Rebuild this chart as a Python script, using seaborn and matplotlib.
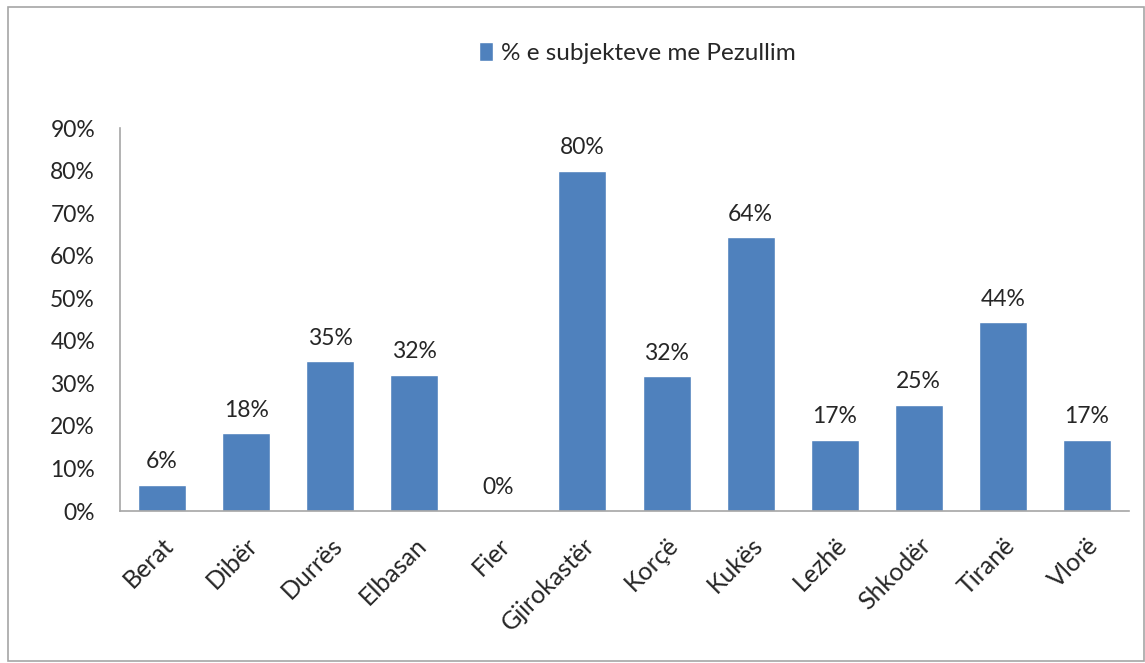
import pandas as pd
import seaborn as sns
import matplotlib.pyplot as plt
from matplotlib.patches import Rectangle
from matplotlib.ticker import FuncFormatter

sns.set_style("white")
plt.rcParams["font.family"] = ["Lato", "DejaVu Sans"]

# data
districts = ["Berat", "Dibër", "Durrës", "Elbasan", "Fier", "Gjirokastër",
             "Korçë", "Kukës", "Lezhë", "Shkodër", "Tiranë", "Vlorë"]
pct = [6.2, 18.3, 35.2, 32.0, 0.0, 80.0, 31.7, 64.3, 16.7, 25.0, 44.4, 16.7]
series_name = "% e subjekteve me Pezullim"

bar_color = "#4F81BD"
fs = 16.5

df = pd.DataFrame({"District": districts, "Pct": pct})

fig = plt.figure(figsize=(11.45, 6.63), dpi=100)
ax = fig.add_axes([120 / 1145, 1 - 511 / 663, 1009 / 1145, 383 / 663])

sns.barplot(data=df, x="District", y="Pct", color=bar_color, width=0.57,
            saturation=1, ax=ax, label=series_name)

ax.set_ylim(0, 90)
ax.set_xlim(-0.5, len(districts) - 0.5)
ax.set_yticks(range(0, 91, 10))
ax.yaxis.set_major_formatter(FuncFormatter(lambda v, p: f"{v:.0f}%"))
ax.set_xlabel("")
ax.set_ylabel("")

for s in ["top", "right"]:
    ax.spines[s].set_visible(False)
for s in ["left", "bottom"]:
    ax.spines[s].set_color("#A6A6A6")
    ax.spines[s].set_linewidth(1.2)

ax.tick_params(axis="y", length=0, pad=18, labelsize=fs)
ax.tick_params(axis="x", length=0, pad=16, labelsize=18)
plt.setp(ax.get_xticklabels(), rotation=45, ha="right", rotation_mode="anchor")

# value labels above bars
for i, v in enumerate(pct):
    ax.annotate(f"{v:.0f}%", (i, v), xytext=(0, 9), textcoords="offset points",
                ha="center", va="bottom", fontsize=fs)

# legend at top
ax.legend(loc="center", bbox_to_anchor=(637 / 1145, 1 - 53 / 663),
          bbox_transform=fig.transFigure, frameon=False, fontsize=17.5,
          handlelength=0.6, handleheight=0.8, handletextpad=0.3)

# outer chart border
fig.patches.append(Rectangle((8 / 1145, 2 / 663), 1136 / 1145, 654 / 663,
                             transform=fig.transFigure, fill=False,
                             edgecolor="#A6A6A6", linewidth=1.2))

fig.savefig("out.png", dpi=100)
